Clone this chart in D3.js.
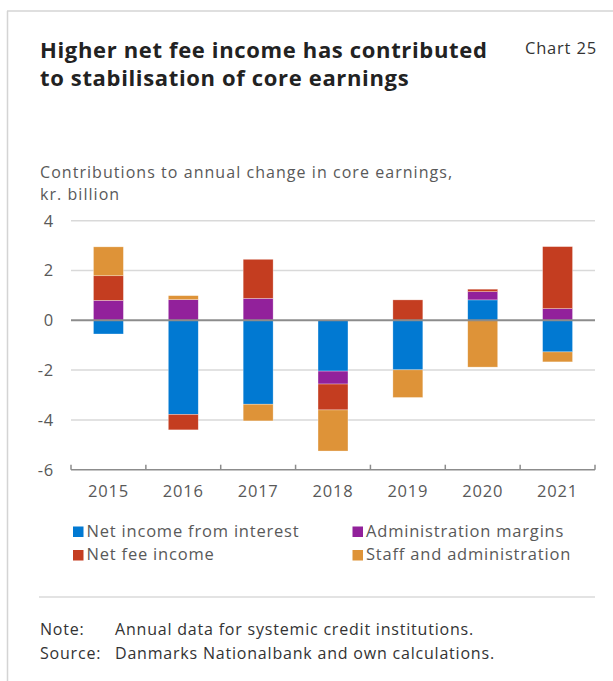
<!DOCTYPE html>
<html>
<head>
<meta charset="utf-8">
<script src="https://cdn.jsdelivr.net/npm/d3@7"></script>
<style>
  html, body { margin: 0; padding: 0; background: #fff; }
  svg { display: block; font-family: "Open Sans", "Noto Sans", sans-serif; }
  .lbl { letter-spacing: 0.8px; }
  .sub { letter-spacing: 1.05px; }
</style>
</head>
<body>
<svg id="chart" width="613" height="681"></svg>
<script>
// Contributions to annual change in core earnings, kr. billion
const years = ["2015", "2016", "2017", "2018", "2019", "2020", "2021"];
const netInterest = [-0.55, -3.78, -3.37, -2.04, -1.99, 0.82, -1.27];
const adminMargins = [0.80, 0.83, 0.88, -0.52, 0.00, 0.33, 0.47];
const netFee = [0.99, -0.62, 1.57, -1.04, 0.82, 0.10, 2.49];
const staffAdmin = [1.16, 0.16, -0.67, -1.65, -1.11, -1.88, -0.40];
const yTicks = [-6, -4, -2, 0, 2, 4];

const seriesKeys = ["interest", "admin", "fee", "staff"];
const seriesLabels = {
  interest: "Net income from interest",
  admin: "Administration margins",
  fee: "Net fee income",
  staff: "Staff and administration"
};
const colors = {
  interest: "#0179d2",
  admin: "#92219b",
  fee: "#c43d20",
  staff: "#de9338"
};

const rows = years.map((y, i) => ({
  year: y,
  interest: netInterest[i],
  admin: adminMargins[i],
  fee: netFee[i],
  staff: staffAdmin[i]
}));

const svg = d3.select("#chart");
const textGray = "#595959";
const fs = 16.5;

// frame
svg.append("line").attr("x1", 7.5).attr("x2", 7.5).attr("y1", 11).attr("y2", 681)
  .attr("stroke", "#d4d4d4").attr("stroke-width", 1.5);
svg.append("line").attr("x1", 7).attr("x2", 613).attr("y1", 11).attr("y2", 11)
  .attr("stroke", "#d4d4d4").attr("stroke-width", 1.5);

// title
const title = svg.append("text").attr("x", 40).attr("fill", "#222")
  .attr("font-size", 22).attr("font-weight", 700).style("letter-spacing", "0.65px");
title.append("tspan").attr("x", 40).attr("y", 58).text("Higher net fee income has contributed");
title.append("tspan").attr("x", 40).attr("y", 86).text("to stabilisation of core earnings");

svg.append("text").attr("class", "lbl").attr("x", 525).attr("y", 54).attr("fill", "#333")
  .attr("font-size", 16.5).text("Chart 25");

// subtitle
svg.append("text").attr("class", "sub").attr("x", 40).attr("y", 178).attr("fill", textGray).attr("font-size", 16)
  .text("Contributions to annual change in core earnings,");
svg.append("text").attr("class", "sub").attr("x", 40).attr("y", 200).attr("fill", textGray).attr("font-size", 16)
  .text("kr. billion");

// scales
const x = d3.scaleBand().domain(years).range([71, 595]).paddingInner(0.6).paddingOuter(0.3);
const y = d3.scaleLinear().domain([-6, 4]).range([469.7, 220.7]);

// gridlines
svg.append("g").selectAll("line").data(yTicks.filter(t => t !== 0 && t !== -6)).join("line")
  .attr("x1", 71).attr("x2", 595)
  .attr("y1", d => y(d)).attr("y2", d => y(d))
  .attr("stroke", "#d9d9d9").attr("stroke-width", 1.5);

// y tick labels
svg.append("g").selectAll("text").data(yTicks).join("text")
  .attr("class", "lbl")
  .attr("x", 54).attr("y", d => y(d)).attr("dy", "0.36em")
  .attr("text-anchor", "end").attr("fill", textGray).attr("font-size", fs)
  .text(d => d);

// stacked bars
const stack = d3.stack().keys(seriesKeys).offset(d3.stackOffsetDiverging);
const stacked = stack(rows);

svg.append("g").selectAll("g").data(stacked).join("g")
  .attr("fill", d => colors[d.key])
  .selectAll("rect").data(d => d).join("rect")
  .attr("x", d => x(d.data.year))
  .attr("width", x.bandwidth())
  .attr("y", d => y(Math.max(d[0], d[1])))
  .attr("height", d => Math.abs(y(d[0]) - y(d[1])))
  .attr("stroke", "rgba(255,255,255,0.5)").attr("stroke-width", 0.6);

// zero line
svg.append("line").attr("x1", 71).attr("x2", 595).attr("y1", y(0)).attr("y2", y(0))
  .attr("stroke", "#8c8c8c").attr("stroke-width", 2);

// bottom axis with ticks at category boundaries
const axisY = y(-6);
svg.append("line").attr("x1", 71).attr("x2", 595).attr("y1", axisY).attr("y2", axisY)
  .attr("stroke", "#8c8c8c").attr("stroke-width", 1.5);
const boundaries = d3.range(years.length + 1).map(i => 71 + i * x.step());
svg.append("g").selectAll("line").data(boundaries).join("line")
  .attr("x1", d => d).attr("x2", d => d)
  .attr("y1", axisY).attr("y2", axisY - 5)
  .attr("stroke", "#8c8c8c").attr("stroke-width", 1.5);

svg.append("g").selectAll("text").data(years).join("text")
  .attr("class", "lbl")
  .attr("x", d => x(d) + x.bandwidth() / 2).attr("y", 497)
  .attr("text-anchor", "middle").attr("fill", textGray).attr("font-size", fs)
  .text(d => d);

// legend
const legendPos = {
  interest: [73, 526.5],
  admin: [352.5, 526.5],
  fee: [73, 550],
  staff: [352.5, 550]
};
const legend = svg.append("g").selectAll("g").data(seriesKeys).join("g")
  .attr("transform", d => `translate(${legendPos[d][0]},${legendPos[d][1]})`);
legend.append("rect").attr("width", 10.5).attr("height", 10.5).attr("fill", d => colors[d]);
legend.append("text").attr("class", "lbl").attr("x", 13.5).attr("y", 10).attr("fill", textGray)
  .attr("font-size", fs).text(d => seriesLabels[d]);

// separator and notes
svg.append("line").attr("x1", 39).attr("x2", 595).attr("y1", 597).attr("y2", 597)
  .attr("stroke", "#c8c8c8").attr("stroke-width", 1.2);

const notes = [["Note:", "Annual data for systemic credit institutions.", 635],
               ["Source:", "Danmarks Nationalbank and own calculations.", 659]];
notes.forEach(([label, body, yy]) => {
  svg.append("text").attr("class", "lbl").attr("x", 40).attr("y", yy).attr("fill", "#333").attr("font-size", 16).text(label);
  svg.append("text").attr("class", "lbl").attr("x", 115).attr("y", yy).attr("fill", "#333").attr("font-size", 16).text(body);
});
</script>
</body>
</html>
